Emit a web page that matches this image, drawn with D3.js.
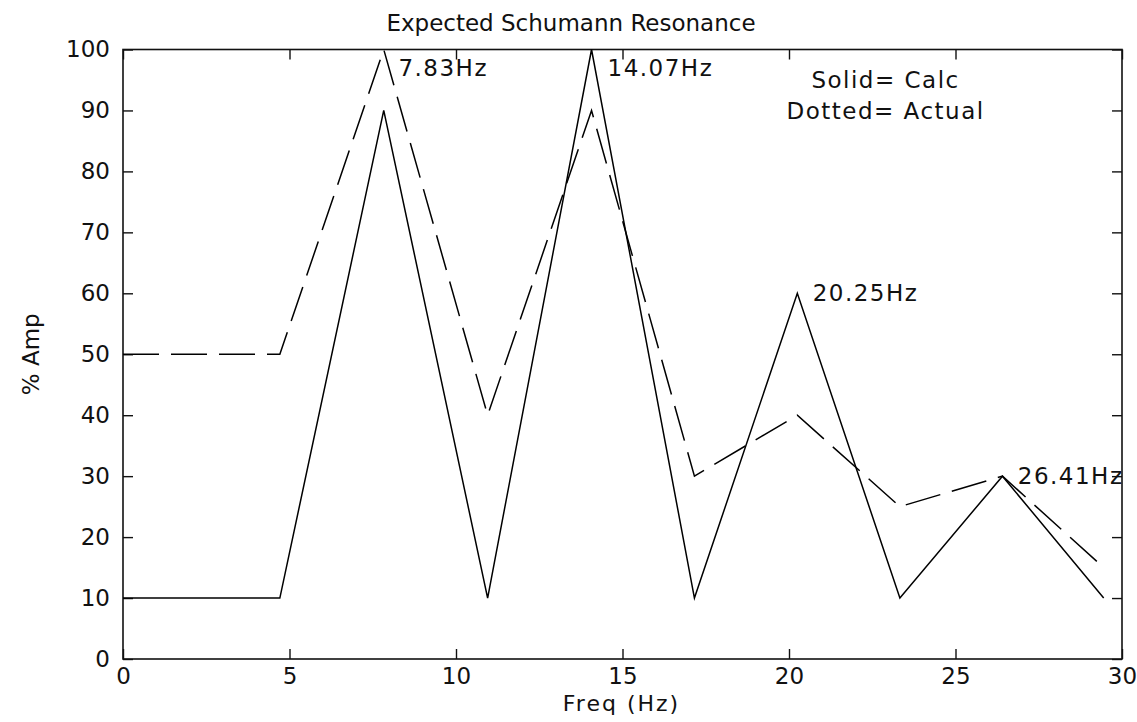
<!DOCTYPE html>
<html>
<head>
<meta charset="utf-8">
<script src="https://cdn.jsdelivr.net/npm/d3@7"></script>
<style>
  body { margin: 0; background: #fff; }
  text { font-family: "DejaVu Sans", sans-serif; font-size: 23px; fill: #111; }
  .tick line { stroke: #111; stroke-width: 1.4px; }
</style>
</head>
<body>
<div id="chart"></div>
<script>
/* Daten */
var freq   = [0, 4.71, 7.83, 10.95, 14.07, 17.16, 20.25, 23.33, 26.41, 29.45];
var calc   = [10, 10, 90, 10, 100, 10, 60, 10, 30, 10];
var actual = [50, 50, 100, 40, 90, 30, 40, 25, 30, 15];
var xTicks = [0, 5, 10, 15, 20, 25, 30];
var yTicks = [0, 10, 20, 30, 40, 50, 60, 70, 80, 90, 100];
var peakLabels = ["7.83Hz", "14.07Hz", "20.25Hz", "26.41Hz"];
var peakLabelX = [8.27, 14.55, 20.71, 26.87];
var peakLabelY = [97, 97, 60, 30];
var noteLines = ["Solid= Calc", "Dotted= Actual"];
var noteX = [22.9, 22.9];
var noteY = [95, 90];

/* Größe */
var W = 1137, H = 722;
var axL = 123, axR = 1122, axT = 49.5, axB = 659;

var svg = d3.select("#chart").append("svg").attr("width", W).attr("height", H);

var x = d3.scaleLinear().domain([0, 30]).range([axL, axR]);
var y = d3.scaleLinear().domain([0, 100]).range([axB, axT]);

/* Achsen mit Ticks nach innen, auf allen vier Seiten */
svg.append("g").attr("transform", "translate(0," + axB + ")")
  .call(d3.axisBottom(x).tickValues(xTicks).tickSizeInner(-10).tickSizeOuter(0).tickPadding(9))
  .call(function(g) { g.select(".domain").remove(); });
svg.append("g").attr("transform", "translate(0," + axT + ")")
  .call(d3.axisTop(x).tickValues(xTicks).tickSizeInner(-10).tickSizeOuter(0).tickFormat(""))
  .call(function(g) { g.select(".domain").remove(); });
svg.append("g").attr("transform", "translate(" + axL + ",0)")
  .call(d3.axisLeft(y).tickValues(yTicks).tickSizeInner(-10).tickSizeOuter(0).tickPadding(13))
  .call(function(g) { g.select(".domain").remove(); });
svg.append("g").attr("transform", "translate(" + axR + ",0)")
  .call(d3.axisRight(y).tickValues(yTicks).tickSizeInner(-10).tickSizeOuter(0).tickFormat(""))
  .call(function(g) { g.select(".domain").remove(); });

svg.selectAll(".tick text").attr("font-family", null).attr("font-size", null).attr("fill", null);

svg.append("rect").attr("x", axL).attr("y", axT)
  .attr("width", axR - axL).attr("height", axB - axT)
  .attr("fill", "none").attr("stroke", "#111").attr("stroke-width", 1.6);

/* Linien */
var line = d3.line().x(function(d) { return x(d[0]); }).y(function(d) { return y(d[1]); });

svg.append("path").datum(freq.map(function(f, i) { return [f, calc[i]]; }))
  .attr("d", line).attr("fill", "none").attr("stroke", "#000").attr("stroke-width", 1.5);

svg.append("path").datum(freq.map(function(f, i) { return [f, actual[i]]; }))
  .attr("d", line).attr("fill", "none").attr("stroke", "#000").attr("stroke-width", 1.5)
  .attr("stroke-dasharray", "36,12");

/* Beschriftungen */
svg.selectAll(".peak").data(peakLabels).enter().append("text").attr("class", "peak")
  .attr("x", function(d, i) { return x(peakLabelX[i]); })
  .attr("y", function(d, i) { return y(peakLabelY[i]); })
  .attr("dy", "0.35em").style("letter-spacing", "1.5px")
  .text(function(d) { return d; });

svg.selectAll(".note").data(noteLines).enter().append("text").attr("class", "note")
  .attr("x", function(d, i) { return x(noteX[i]); })
  .attr("y", function(d, i) { return y(noteY[i]); })
  .attr("dy", "0.35em").attr("text-anchor", "middle").style("letter-spacing", "1.5px")
  .text(function(d) { return d; });

svg.append("text").attr("x", 571).attr("y", 31).attr("text-anchor", "middle")
  .text("Expected Schumann Resonance");

svg.append("text").attr("x", 621.5).attr("y", 711).attr("text-anchor", "middle")
  .style("font-size", "22px").style("letter-spacing", "2px").text("Freq (Hz)");

svg.append("text").attr("transform", "translate(39," + ((axT + axB) / 2) + ") rotate(-90)")
  .attr("text-anchor", "middle").text("% Amp");
</script>
</body>
</html>
